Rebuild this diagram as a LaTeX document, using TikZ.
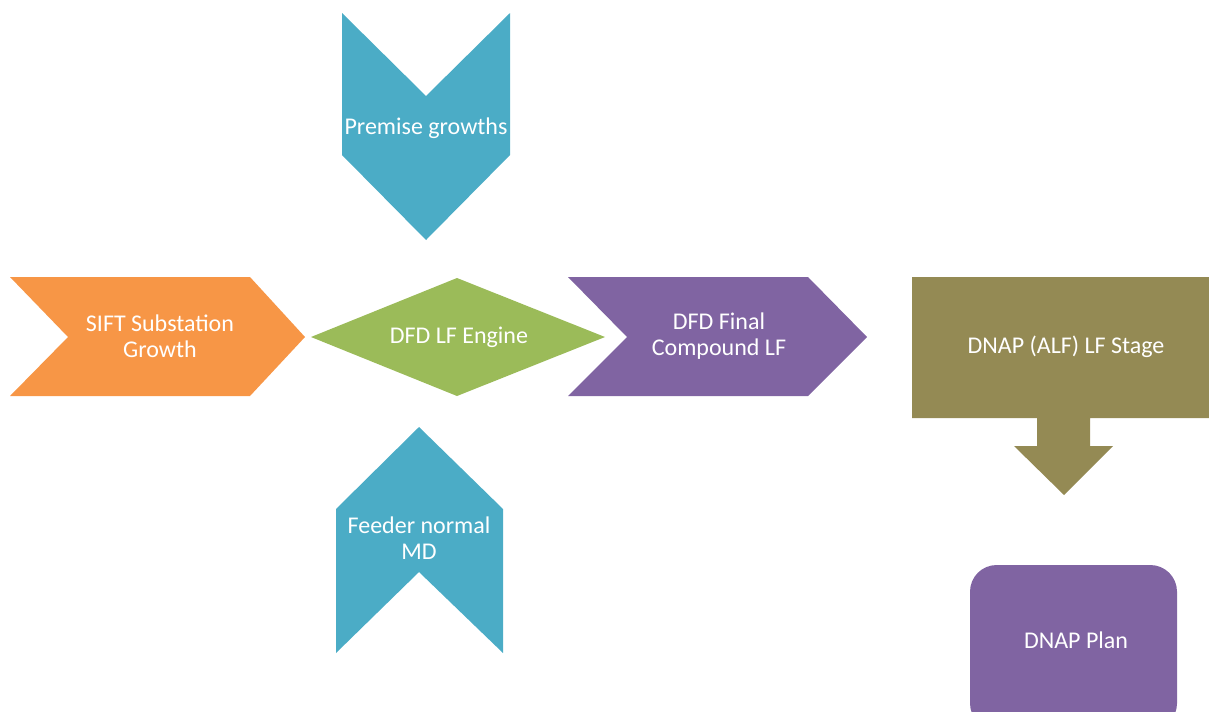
\documentclass[tikz,border=0pt]{standalone}
\usepackage{fontspec}
\setmainfont{Carlito}
\definecolor{cblue}{HTML}{4BACC6}
\definecolor{corange}{HTML}{F79646}
\definecolor{cgreen}{HTML}{9BBB59}
\definecolor{cpurple}{HTML}{8064A2}
\definecolor{colive}{HTML}{948A54}
\tikzset{
  lbl/.style={text=white, font=\fontsize{18}{19.5}\selectfont, align=center, inner sep=0pt},
}
\begin{document}
\begin{tikzpicture}[x=0.75pt, y=-0.75pt]
\useasboundingbox (0,0) rectangle (1209,711);
% chevron pointing down (top input)
\fill[cblue] (342,13) -- (426,96) -- (510,13) -- (510,155) -- (426,240) -- (342,155) -- cycle;
\node[lbl] (premise) at (426,128) {Premise growths};
% chevron pointing right (left input)
\fill[corange] (10,277) -- (250,277) -- (305,337) -- (250,396) -- (10,396) -- (68,337) -- cycle;
\node[lbl] (sift) at (160,336) {SIFT Substation\\Growth};
% central decision diamond
\fill[cgreen] (311,337) -- (457,278) -- (605,337) -- (457,396) -- cycle;
\node[lbl] (engine) at (459,337) {DFD LF Engine};
% output chevron
\fill[cpurple] (568,277) -- (808,277) -- (867,337) -- (808,396) -- (568,396) -- (627,337) -- cycle;
\node[lbl] (final) at (719,336) {DFD Final\\Compound LF};
% callout box with downward arrow
\fill[colive] (912,277) -- (1209,277) -- (1209,418) -- (1090,418) -- (1090,446) -- (1113,446)
  -- (1064,495) -- (1014,446) -- (1037,446) -- (1037,418) -- (912,418) -- cycle;
\node[lbl] (stage) at (1066,347) {DNAP (ALF) LF Stage};
% chevron pointing up (bottom input)
\fill[cblue] (419,427) -- (503,509) -- (503,653) -- (419,572) -- (336,653) -- (336,509) -- cycle;
\node[lbl] (feeder) at (419,538) {Feeder normal\\MD};
% final plan box
\fill[cpurple, rounded corners=20] (970,565) rectangle (1177,730);
\node[lbl] (plan) at (1076,640) {DNAP Plan};
\end{tikzpicture}
\end{document}
